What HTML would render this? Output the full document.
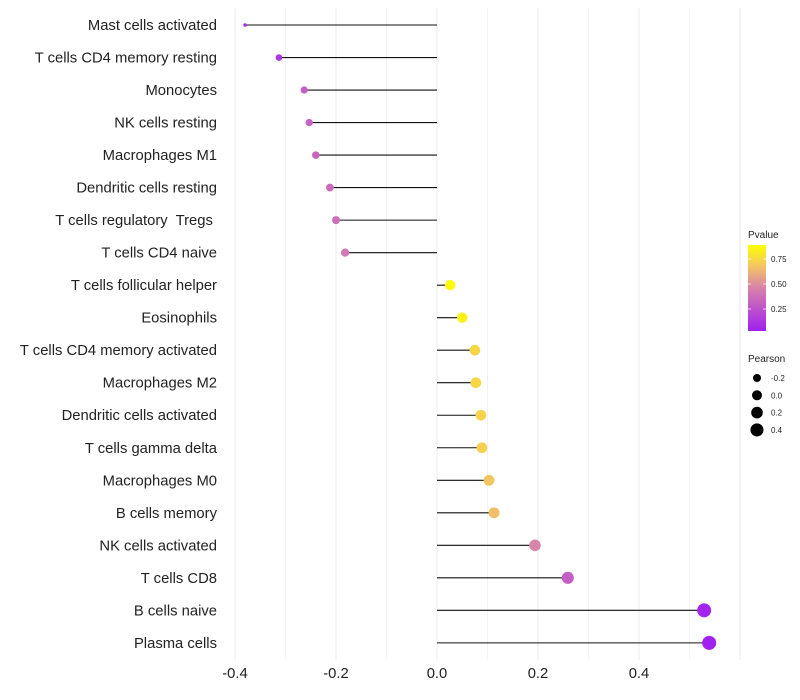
<!DOCTYPE html>
<html><head><meta charset="utf-8"><style>
body{margin:0;background:#fff;font-family:"Liberation Sans",sans-serif;}
svg{display:block}
text{white-space:pre}
</style></head><body>
<svg id="chart" width="800" height="700"></svg>
<script>
const categories=["Mast cells activated","T cells CD4 memory resting","Monocytes","NK cells resting","Macrophages M1","Dendritic cells resting","T cells regulatory  Tregs ","T cells CD4 naive","T cells follicular helper","Eosinophils","T cells CD4 memory activated","Macrophages M2","Dendritic cells activated","T cells gamma delta","Macrophages M0","B cells memory","NK cells activated","T cells CD8","B cells naive","Plasma cells"];
const pearson=[-0.38,-0.313,-0.263,-0.253,-0.24,-0.212,-0.2,-0.182,0.026,0.05,0.075,0.077,0.087,0.089,0.103,0.113,0.194,0.259,0.529,0.539];
const pvalue=[0.1,0.12,0.3,0.32,0.33,0.36,0.38,0.42,0.89,0.84,0.74,0.74,0.73,0.72,0.68,0.66,0.47,0.3,0.05,0.04];
const xTicks=[-0.4,-0.2,0.0,0.2,0.4];
const xTickLabels=["-0.4","-0.2","0.0","0.2","0.4"];
const pTicks=[0.25,0.5,0.75];
const sizeLegend=[-0.2,0.0,0.2,0.4];

const NS="http://www.w3.org/2000/svg";
const svg=document.getElementById('chart');
function el(t,a,p){const e=document.createElementNS(NS,t);for(const k in a)e.setAttribute(k,a[k]);(p||svg).appendChild(e);return e;}
const X=v=>437+v*505;
const Y=i=>25+i*32.52;
const R=v=>{const s=24.9+44.7*v;return v<-0.35?1.8:Math.sqrt(Math.max(2,s));};
const stops=[[0,[160,32,240]],[0.5,[216,130,170]],[0.75,[243,196,100]],[1,[255,255,0]]];
const pmin=0.03,pmax=0.89;
function col(p){let t=Math.max(0,Math.min(1,(p-pmin)/(pmax-pmin)));for(let i=1;i<stops.length;i++){if(t<=stops[i][0]){const a=stops[i-1],b=stops[i];const f=(t-a[0])/(b[0]-a[0]);const c=a[1].map((v,j)=>Math.round(v+(b[1][j]-v)*f));return `rgb(${c})`;}}return 'rgb(255,255,0)';}
for(let v=-0.4;v<=0.6;v+=0.1){const g=el('line',{x1:X(v),x2:X(v),y1:8,y2:660,stroke:'#ebebeb','stroke-width':Math.abs(Math.round(v*10))%2==0?1:0.6});
}
xTicks.forEach((v,i)=>{const t=el('text',{x:X(v),y:678,'text-anchor':'middle','font-size':14.8,fill:'#222'});t.textContent=xTickLabels[i];
});
categories.forEach((c,i)=>{
const t=el('text',{x:217,y:Y(i)+5,'text-anchor':'end','font-size':14.8,fill:'#222'});t.textContent=c;

const l=el('line',{x1:X(0),x2:X(pearson[i]),y1:Y(i),y2:Y(i),stroke:'#111','stroke-width':1.1});

const d=el('circle',{cx:X(pearson[i]),cy:Y(i),r:R(pearson[i]),fill:col(pvalue[i])});

});
const defs=el('defs',{});const lg=el('linearGradient',{id:'pg',x1:0,y1:1,x2:0,y2:0},defs);
stops.forEach(s=>el('stop',{offset:s[0],'stop-color':`rgb(${s[1]})`},lg));
const lt=el('text',{x:748,y:238,'font-size':10,fill:'#222'});lt.textContent='Pvalue';

const cb=el('rect',{x:748,y:245,width:18,height:86,fill:'url(#pg)'});

pTicks.forEach(p=>{const y=331-(p-pmin)/(pmax-pmin)*86;
el('line',{x1:748,x2:751,y1:y,y2:y,stroke:'#fff','stroke-width':0.7});el('line',{x1:763,x2:766,y1:y,y2:y,stroke:'#fff','stroke-width':0.7});
const t=el('text',{x:771,y:y+3,'font-size':8,fill:'#222'});t.textContent=p.toFixed(2);
});
const st=el('text',{x:748,y:362,'font-size':10,fill:'#222'});st.textContent='Pearson';

sizeLegend.forEach((v,i)=>{const y=378+i*17.3;
const c=el('circle',{cx:757,cy:y,r:R(v),fill:'#000'});

const t=el('text',{x:771,y:y+3,'font-size':8,fill:'#222'});t.textContent=v.toFixed(1);
});
</script>
</body></html>
